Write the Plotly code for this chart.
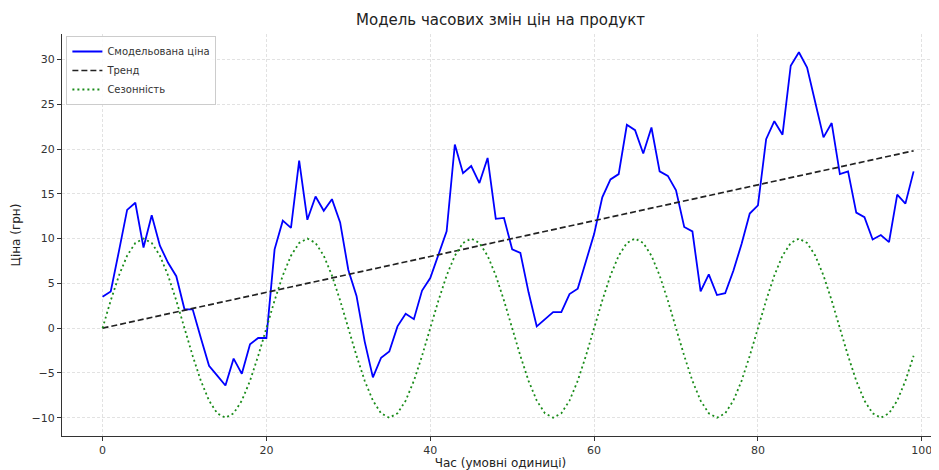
import plotly.graph_objects as go

time = list(range(100))

price = [3.5, 4.1, 8.6, 13.2, 14.0, 9.0, 12.6, 9.2, 7.3, 5.8,
         2.1, 2.1, -1.1, -4.2, -5.3, -6.4, -3.4, -5.1, -1.8, -1.1,
         -1.1, 8.8, 12.0, 11.2, 18.7, 12.1, 14.7, 13.1, 14.4, 11.8,
         6.5, 3.6, -1.5, -5.5, -3.3, -2.6, 0.2, 1.6, 1.0, 4.2,
         5.6, 8.2, 10.8, 20.5, 17.3, 18.1, 16.2, 19.0, 12.2, 12.3,
         8.8, 8.4, 4.0, 0.2, 1.0, 1.8, 1.8, 3.8, 4.4, 7.5,
         10.5, 14.6, 16.6, 17.2, 22.7, 22.1, 19.5, 22.4, 17.5, 17.0,
         15.4, 11.3, 10.8, 4.1, 6.0, 3.7, 3.9, 6.4, 9.4, 12.8,
         13.7, 21.1, 23.1, 21.6, 29.3, 30.8, 29.1, 25.2, 21.3, 22.9,
         17.2, 17.5, 12.9, 12.4, 9.9, 10.4, 9.6, 14.9, 13.9, 17.5]

trend = [0.0, 0.2, 0.4, 0.6, 0.8, 1.0, 1.2, 1.4, 1.6, 1.8,
         2.0, 2.2, 2.4, 2.6, 2.8, 3.0, 3.2, 3.4, 3.6, 3.8,
         4.0, 4.2, 4.4, 4.6, 4.8, 5.0, 5.2, 5.4, 5.6, 5.8,
         6.0, 6.2, 6.4, 6.6, 6.8, 7.0, 7.2, 7.4, 7.6, 7.8,
         8.0, 8.2, 8.4, 8.6, 8.8, 9.0, 9.2, 9.4, 9.6, 9.8,
         10.0, 10.2, 10.4, 10.6, 10.8, 11.0, 11.2, 11.4, 11.6, 11.8,
         12.0, 12.2, 12.4, 12.6, 12.8, 13.0, 13.2, 13.4, 13.6, 13.8,
         14.0, 14.2, 14.4, 14.6, 14.8, 15.0, 15.2, 15.4, 15.6, 15.8,
         16.0, 16.2, 16.4, 16.6, 16.8, 17.0, 17.2, 17.4, 17.6, 17.8,
         18.0, 18.2, 18.4, 18.6, 18.8, 19.0, 19.2, 19.4, 19.6, 19.8]

season = [0.0, 3.09, 5.88, 8.09, 9.51, 10.0, 9.51, 8.09, 5.88, 3.09,
          0.0, -3.09, -5.88, -8.09, -9.51, -10.0, -9.51, -8.09, -5.88, -3.09,
          0.0, 3.09, 5.88, 8.09, 9.51, 10.0, 9.51, 8.09, 5.88, 3.09,
          0.0, -3.09, -5.88, -8.09, -9.51, -10.0, -9.51, -8.09, -5.88, -3.09,
          0.0, 3.09, 5.88, 8.09, 9.51, 10.0, 9.51, 8.09, 5.88, 3.09,
          0.0, -3.09, -5.88, -8.09, -9.51, -10.0, -9.51, -8.09, -5.88, -3.09,
          0.0, 3.09, 5.88, 8.09, 9.51, 10.0, 9.51, 8.09, 5.88, 3.09,
          0.0, -3.09, -5.88, -8.09, -9.51, -10.0, -9.51, -8.09, -5.88, -3.09,
          0.0, 3.09, 5.88, 8.09, 9.51, 10.0, 9.51, 8.09, 5.88, 3.09,
          0.0, -3.09, -5.88, -8.09, -9.51, -10.0, -9.51, -8.09, -5.88, -3.09]

x_ticks = [0, 20, 40, 60, 80, 100]
y_ticks = [-10, -5, 0, 5, 10, 15, 20, 25, 30]

title = "Модель часових змін цін на продукт"
x_title = "Час (умовні одиниці)"
y_title = "Ціна (грн)"
names = ["Смодельована ціна", "Тренд", "Сезонність"]

FONT = "DejaVu Sans"

# the page body adds an 8px offset; the figure is sized to fill the rest of the window
W, H = 931, 462

fig = go.Figure()
fig.add_trace(go.Scatter(x=time, y=price, mode="lines", name=names[0],
                         line=dict(color="#0000ff", width=1.8)))
fig.add_trace(go.Scatter(x=time, y=trend, mode="lines", name=names[1],
                         line=dict(color="#222222", width=1.7, dash="6px,3px")))
fig.add_trace(go.Scatter(x=time, y=season, mode="lines", name=names[2],
                         line=dict(color="#1a8c1a", width=1.8, dash="2px,3px")))

axis_common = dict(
    showgrid=True, gridcolor="#e2e2e2", griddash="3px,2px", gridwidth=0.8,
    showline=True, linecolor="#333333", linewidth=1,
    ticks="outside", ticklen=4, tickcolor="#333333", tickwidth=1,
    zeroline=False, automargin=False,
    tickfont=dict(family=FONT, size=11, color="#333333"),
    title_font=dict(family=FONT, size=12, color="#222222"),
)

fig.update_layout(
    width=W, height=H,
    margin=dict(l=54, r=0, t=26, b=34),
    paper_bgcolor="white", plot_bgcolor="white",
    font=dict(family=FONT, color="#222222"),
    title=dict(text=title, x=0.5, xref="paper", y=1 - 12 / H, yref="container",
               xanchor="center", yanchor="middle",
               font=dict(family=FONT, size=15, color="#222222")),
    xaxis=dict(range=[-4.95, 102.1], tickvals=x_ticks,
               title=dict(text=x_title, standoff=1), **axis_common),
    yaxis=dict(range=[-12.04, 32.84], tickvals=y_ticks,
               title=dict(text=y_title, standoff=8), **axis_common),
    legend=dict(x=0.005, y=0.995, xanchor="left", yanchor="top",
                bgcolor="rgba(255,255,255,0.85)", bordercolor="#cccccc", borderwidth=1,
                font=dict(family=FONT, size=10, color="#333333"),
                itemwidth=30, tracegroupgap=0),
    showlegend=True,
)

fig.write_html("out.html")
